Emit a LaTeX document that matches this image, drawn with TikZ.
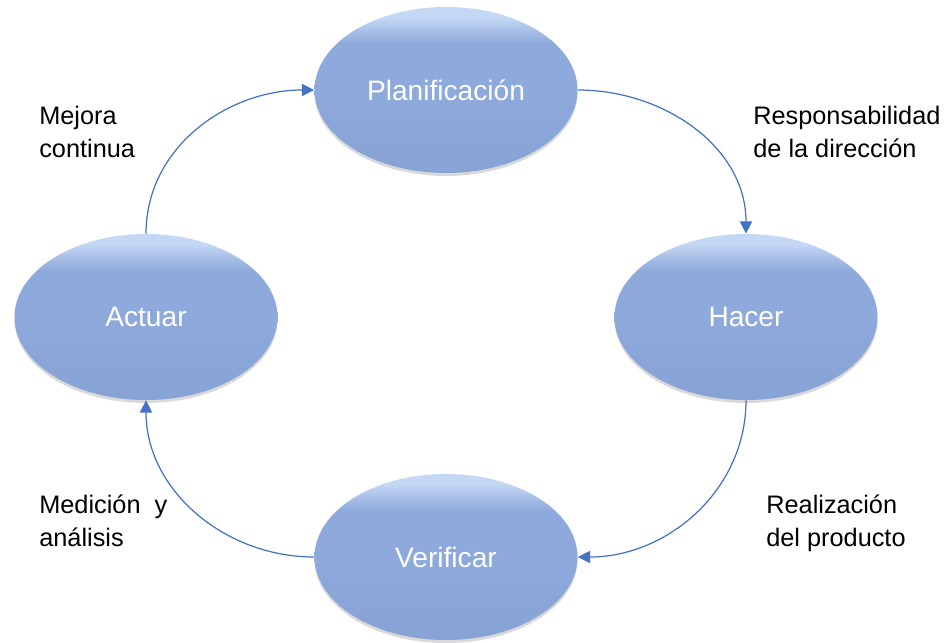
\documentclass[tikz,border=0pt]{standalone}
\usepackage{fontspec}
\setmainfont{Liberation Sans}
\usetikzlibrary{shapes.geometric,arrows.meta,shadows}
\definecolor{ellmid}{RGB}{142,169,219}
\definecolor{elltop}{RGB}{196,215,245}
\definecolor{ellbot}{RGB}{136,163,214}
\definecolor{arrowblue}{RGB}{68,114,196}
\pgfdeclareverticalshading{phasefill}{100bp}{color(0bp)=(ellbot); color(30bp)=(ellbot);
	color(50bp)=(ellmid); color(64bp)=(ellmid); color(72bp)=(elltop); color(100bp)=(elltop)}

\begin{document}
\begin{tikzpicture}
	[phase/.style={ellipse, minimum width=5.26cm, minimum height=3.32cm, inner sep=0pt,
		shading=phasefill, text=white,
		font=\fontsize{16}{19}\selectfont,
		drop shadow={opacity=0.3, shadow xshift=0pt, shadow yshift=-0.06cm}},
	flow/.style={draw=arrowblue, line width=0.7pt, -{Triangle[length=7pt,width=7pt]}},
	note/.style={anchor=base west, align=left, inner sep=0pt,
		font=\fontsize{14.4}{18.6}\selectfont}]
	\useasboundingbox (-8.92,-6.5) rectangle (10.08,6.34);
	\node[phase] (plan) at (0,4.54) {Planificación};
	\node[phase] (hacer) at (6,0) {Hacer};
	\node[phase] (verif) at (0,-4.8) {Verificar};
	\node[phase] (actuar) at (-6,0) {Actuar};
	\draw[flow] (actuar.north) to[out=90,in=180] (plan.west);
	\draw[flow] (plan.east) to[out=0,in=90] (hacer.north);
	\draw[flow] (hacer.south) to[out=-90,in=0] (verif.east);
	\draw[flow] (verif.west) to[out=180,in=-90] (actuar.south);
	\node[note] (mejora) at (-8.14,3.2) {Mejora\\continua};
	\node[note] (resp) at (6.14,3.2) {Responsabilidad\\de la dirección};
	\node[note] (medic) at (-8.14,-4.58) {Medición\ \ y\\análisis};
	\node[note] (realiz) at (6.40,-4.58) {Realización\\del producto};
\end{tikzpicture}
\end{document}
